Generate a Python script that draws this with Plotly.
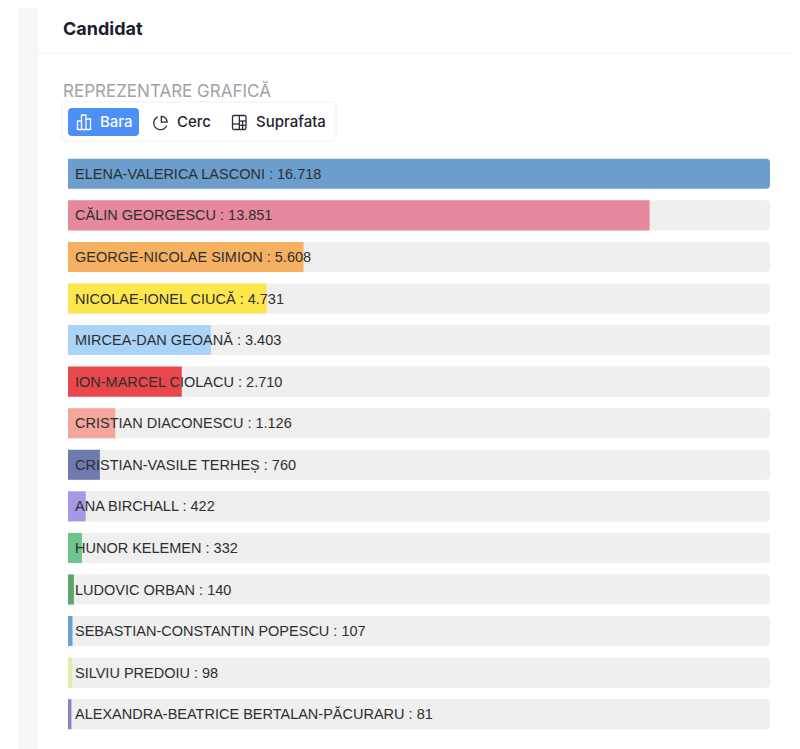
import math
import plotly.graph_objects as go

# date candidati
candidati = [
    "ELENA-VALERICA LASCONI", "CĂLIN GEORGESCU", "GEORGE-NICOLAE SIMION",
    "NICOLAE-IONEL CIUCĂ", "MIRCEA-DAN GEOANĂ", "ION-MARCEL CIOLACU",
    "CRISTIAN DIACONESCU", "CRISTIAN-VASILE TERHEȘ", "ANA BIRCHALL",
    "HUNOR KELEMEN", "LUDOVIC ORBAN", "SEBASTIAN-CONSTANTIN POPESCU",
    "SILVIU PREDOIU", "ALEXANDRA-BEATRICE BERTALAN-PĂCURARU",
]
voturi = [16718, 13851, 5608, 4731, 3403, 2710, 1126, 760, 422, 332, 140, 107, 98, 81]
culori = [
    "#6b9ecd", "#e8889f", "#f5b062", "#fde74c", "#a9d4f8", "#e8474d",
    "#f4a59c", "#6f7bb0", "#a797e4", "#6cc58b", "#5ba46c", "#6a9fd0",
    "#e3eca4", "#8a7ec8",
]

OFF = 8  # marginea implicita a paginii (body margin)
W, H = 800 - OFF, 749 - OFF  # ca sa nu apara scrollbar
# zona graficului, in pixeli de ecran
SX0, SX1, SY0, SY1 = 68, 770, 153, 735
ML, MT = SX0 - OFF, SY0 - OFF
MR = W - (SX1 - OFF)
MB = H - (SY1 - OFF)
PW = SX1 - SX0
PH = SY1 - SY0


def px(x):
    return (x - SX0) / PW


def py(y):
    return (SY1 - y) / PH


def rrect(x0, y0, x1, y1, r):
    # dreptunghi rotunjit in pixeli -> path in coordonate paper
    pts = [
        ("M", x0 + r, y0), ("L", x1 - r, y0), ("Q", x1, y0, x1, y0 + r),
        ("L", x1, y1 - r), ("Q", x1, y1, x1 - r, y1), ("L", x0 + r, y1),
        ("Q", x0, y1, x0, y1 - r), ("L", x0, y0 + r), ("Q", x0, y0, x0 + r, y0),
    ]
    s = ""
    for p in pts:
        coords = p[1:]
        s += p[0] + " " + " ".join(
            f"{px(coords[i]):.5f},{py(coords[i + 1]):.5f}" for i in range(0, len(coords), 2)
        ) + " "
    return s + "Z"


def poly(points, close=False):
    s = "M " + " L ".join(f"{px(a):.5f},{py(b):.5f}" for a, b in points)
    return s + (" Z" if close else "")


def arc(cx, cy, r, a0, a1, n=24):
    return [(cx + r * math.cos(math.radians(a0 + (a1 - a0) * i / n)),
             cy - r * math.sin(math.radians(a0 + (a1 - a0) * i / n))) for i in range(n + 1)]


fig = go.Figure()

# fundal (pista gri)
fig.add_trace(go.Bar(
    x=[max(voturi)] * len(candidati), y=candidati, orientation="h",
    marker=dict(color="#efefef", line=dict(width=0)),
    hoverinfo="skip", showlegend=False,
))
fig.add_trace(go.Bar(
    x=voturi, y=candidati, orientation="h",
    marker=dict(color=culori, line=dict(width=0)),
    hoverinfo="skip", showlegend=False,
))

annotations = []
for nume, v in zip(candidati, voturi):
    annotations.append(dict(
        x=0, y=nume, xref="x", yref="y", xanchor="left", xshift=5,
        text=f"{nume} : {v:,}".replace(",", "."), showarrow=False,
        font=dict(family="Liberation Sans, Arial, sans-serif", size=14.5, color="#2e2e2e"),
    ))

ui_font = "Inter, Roboto, sans-serif"


def label(x, y, text, size, color, weight=400):
    return dict(x=px(x), y=py(y), xref="paper", yref="paper", xanchor="left", yanchor="middle",
                text=text, showarrow=False,
                font=dict(family=ui_font, size=size, color=color, weight=weight))


annotations += [
    label(61, 28, "<b>Candidat</b>", 18, "#1b1e2e"),
    label(61, 91, "REPREZENTARE GRAFICĂ", 17, "#a0a2a8"),
    label(98, 122, "Bara", 15, "white", 500),
    label(175, 122, "Cerc", 15, "#1f2430", 500),
    label(254, 122, "Suprafata", 15, "#1f2430", 500),
]

shapes = [
    # fundal pagina
    dict(type="rect", xref="paper", yref="paper", x0=px(18), x1=px(38), y0=py(H + 20), y1=py(0),
         fillcolor="#f6f6f7", line=dict(width=0), layer="below"),
    dict(type="rect", xref="paper", yref="paper", x0=px(18), x1=px(W + 20), y0=py(3), y1=py(0),
         fillcolor="#f6f6f7", line=dict(width=0), layer="below"),
    # linie separatoare
    dict(type="line", xref="paper", yref="paper", x0=px(38), x1=px(W + 20), y0=py(53), y1=py(53),
         line=dict(color="#efeff1", width=1)),
    # grup butoane
    dict(type="path", xref="paper", yref="paper", path=rrect(62, 102, 336, 141, 4),
         fillcolor="white", line=dict(color="#f0f0f2", width=1), layer="below"),
    dict(type="path", xref="paper", yref="paper", path=rrect(68, 108, 139, 136, 4),
         fillcolor="#4b8ff7", line=dict(width=0)),
]

# icon bara
white = dict(color="white", width=1.3)
shapes += [
    dict(type="path", xref="paper", yref="paper",
         path=poly([(77.5, 129.5), (77.5, 121), (81.5, 121), (81.5, 115), (86, 115), (86, 119),
                    (90.5, 119), (90.5, 129.5)], close=True), line=white),
    dict(type="line", xref="paper", yref="paper", x0=px(81.5), x1=px(81.5), y0=py(121), y1=py(129.5), line=white),
    dict(type="line", xref="paper", yref="paper", x0=px(86), x1=px(86), y0=py(119), y1=py(129.5), line=white),
]

# icon cerc
dark = dict(color="#2a2e3a", width=1.3)
cx, cy = 160.5, 123
shapes += [
    dict(type="path", xref="paper", yref="paper", path=poly(arc(cx, cy, 6.7, 113, 337, 30)), line=dark),
    dict(type="path", xref="paper", yref="paper",
         path=poly([(cx + 0.8, cy - 0.8)] + arc(cx + 0.8, cy - 0.8, 5.8, 0, 90, 12), close=True), line=dark),
]

# icon suprafata
shapes += [
    dict(type="path", xref="paper", yref="paper", path=rrect(232.5, 115.5, 246, 129.5, 1.5), line=dark),
    dict(type="line", xref="paper", yref="paper", x0=px(239.3), x1=px(239.3), y0=py(115.5), y1=py(129.5), line=dark),
    dict(type="line", xref="paper", yref="paper", x0=px(232.5), x1=px(239.3), y0=py(124), y1=py(124), line=dark),
    dict(type="line", xref="paper", yref="paper", x0=px(239.3), x1=px(246), y0=py(121), y1=py(121), line=dark),
    dict(type="line", xref="paper", yref="paper", x0=px(242.6), x1=px(242.6), y0=py(121), y1=py(129.5), line=dark),
    dict(type="line", xref="paper", yref="paper", x0=px(239.3), x1=px(246), y0=py(125.3), y1=py(125.3), line=dark),
]

fig.update_layout(
    width=W, height=H,
    margin=dict(l=ML, r=MR, t=MT, b=MB),
    paper_bgcolor="white", plot_bgcolor="white",
    barmode="overlay", bargap=0.277, barcornerradius=4,
    xaxis=dict(range=[0, max(voturi)], visible=False, fixedrange=True),
    yaxis=dict(autorange="reversed", visible=False, fixedrange=True),
    annotations=annotations, shapes=shapes,
    showlegend=False,
)

fig.write_html("out.html")
